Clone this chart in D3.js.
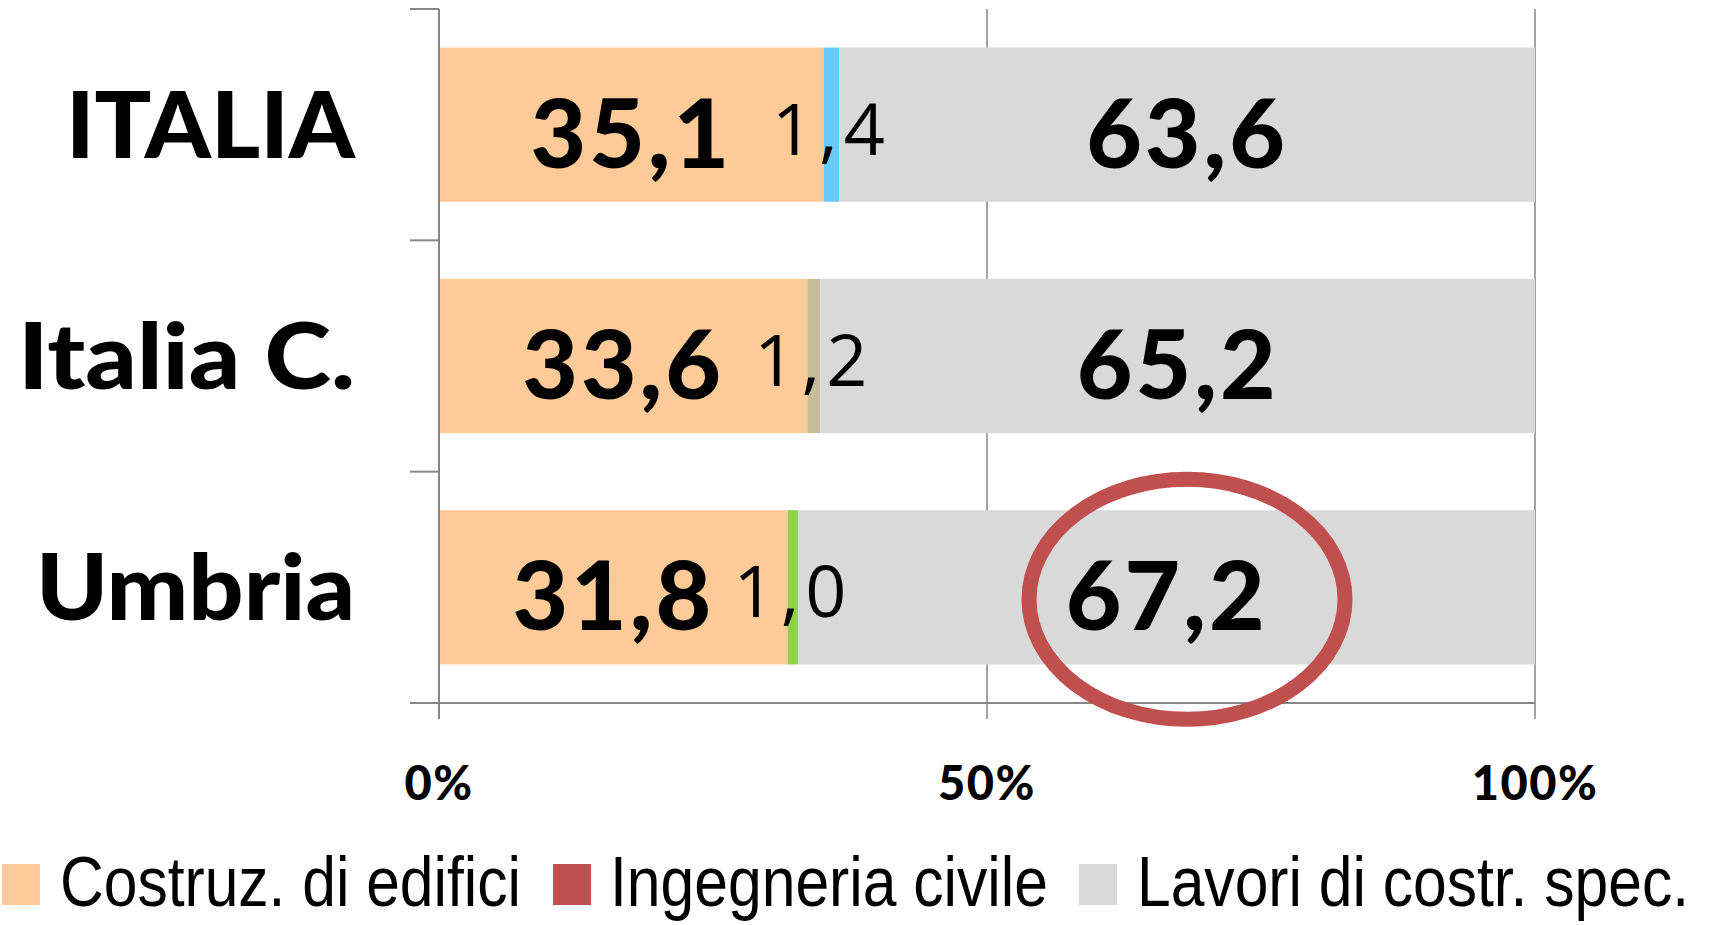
<!DOCTYPE html>
<html>
<head>
<meta charset="utf-8">
<script src="https://cdn.jsdelivr.net/npm/d3@7/dist/d3.min.js"></script>
<style>
  html, body { margin: 0; padding: 0; background: #ffffff; }
  svg { display: block; }
</style>
</head>
<body>
<svg id="chart" width="1709" height="925"></svg>
<script>
// ---- Data ----
const categories = ["ITALIA", "Italia C.", "Umbria"];
const edifici    = [35.1, 33.6, 31.8];
const ingegneria = [1.4, 1.2, 1.0];
const lavori     = [63.6, 65.2, 67.2];
const seriesNames = ["Costruz. di edifici", "Ingegneria civile", "Lavori di costr. spec."];
const xTicks = [0, 50, 100];
const xTickLabels = ["0%", "50%", "100%"];
const highlighted = "Umbria";

// ---- Styles ----
const seriesColors = ["#FECB98", "#C0504D", "#D9D9D9"];
const middleColors = ["#66CCFF", "#C4BD97", "#92D050"];
const axisColor = "#868686";
const heavyFont = "Lato, 'DejaVu Sans', sans-serif";
const lightFont = "'Open Sans', 'Noto Sans', sans-serif";
const narrowFont = "'Liberation Sans Narrow', 'Arial Narrow', 'Liberation Sans', sans-serif";
const catLabelWidths = { "ITALIA": 289, "Italia C.": 337, "Umbria": 319 };

const svg = d3.select("#chart");

const x = d3.scaleLinear().domain([0, 100]).range([439, 1535]);
const y = d3.scaleBand().domain(categories).range([9, 703])
  .paddingInner(0.333).paddingOuter(0.1665);

const fmt = v => d3.format(".1f")(v).replace(".", ",");

// gridlines
svg.append("g").selectAll("line").data(xTicks.filter(t => t > 0)).join("line")
  .attr("x1", d => x(d)).attr("x2", d => x(d))
  .attr("y1", 9).attr("y2", 719)
  .attr("stroke", axisColor).attr("stroke-width", 1.5);

// rows
const rows = categories.map((c, i) => ({
  cat: c, i,
  segs: [
    { s: 0, e: edifici[i], color: seriesColors[0], v: edifici[i], kind: "big" },
    { s: edifici[i], e: edifici[i] + ingegneria[i], color: middleColors[i], v: ingegneria[i], kind: "small" },
    { s: edifici[i] + ingegneria[i], e: Math.min(100, edifici[i] + ingegneria[i] + lavori[i]), color: seriesColors[2], v: lavori[i], kind: "big" }
  ]
}));

const g = svg.append("g");
rows.forEach(r => {
  const yc = y(r.cat) + y.bandwidth() / 2;
  g.selectAll(null).data(r.segs).join("rect")
    .attr("x", d => x(d.s))
    .attr("width", d => x(d.e) - x(d.s))
    .attr("y", y(r.cat))
    .attr("height", y.bandwidth())
    .attr("fill", d => d.color);
  g.selectAll(null).data(r.segs).join("text")
    .attr("x", d => x((d.s + d.e) / 2))
    .attr("y", d => d.kind === "big" ? yc + 43 : yc + 30)
    .attr("text-anchor", "middle")
    .attr("font-family", d => d.kind === "big" ? heavyFont : lightFont)
    .attr("font-weight", d => d.kind === "big" ? 900 : 400)
    .attr("font-size", d => d.kind === "big" ? 96 : 72)
    .attr("letter-spacing", d => d.kind === "big" ? 3 : 6)
    .attr("fill", "#000")
    .text(d => fmt(d.v));
});

// axes
svg.append("line").attr("x1", x(0)).attr("x2", x(0)).attr("y1", 9).attr("y2", 719)
  .attr("stroke", axisColor).attr("stroke-width", 2);
svg.append("line").attr("x1", 410).attr("x2", x(100)).attr("y1", 703).attr("y2", 703)
  .attr("stroke", axisColor).attr("stroke-width", 2);
// category ticks at band boundaries
const bounds = [9].concat(categories.map(c => y(c) + y.bandwidth() + y.step() * y.paddingInner() / 2));
bounds[bounds.length - 1] = 703;
svg.append("g").selectAll("line").data(bounds).join("line")
  .attr("x1", 410).attr("x2", x(0)).attr("y1", d => d).attr("y2", d => d)
  .attr("stroke", axisColor).attr("stroke-width", 2);

// category labels
svg.append("g").selectAll("text").data(categories).join("text")
  .attr("x", 355)
  .attr("y", d => y(d) + y.bandwidth() / 2 + 33)
  .attr("text-anchor", "end")
  .attr("font-family", heavyFont).attr("font-weight", 900)
  .attr("font-size", 92)
  .attr("textLength", d => catLabelWidths[d])
  .attr("lengthAdjust", "spacingAndGlyphs")
  .attr("fill", "#000")
  .text(d => d);

// x tick labels
svg.append("g").selectAll("text").data(xTicks).join("text")
  .attr("x", d => x(d)).attr("y", 800)
  .attr("text-anchor", "middle")
  .attr("font-family", heavyFont).attr("font-weight", 900)
  .attr("font-size", 47).attr("letter-spacing", 1.5)
  .attr("fill", "#000")
  .text((d, i) => xTickLabels[i]);

// highlight ellipse
const hi = rows.find(r => r.cat === highlighted);
const hseg = hi.segs[2];
svg.append("ellipse")
  .attr("cx", x((hseg.s + hseg.e) / 2 + 1.85))
  .attr("cy", y(highlighted) + y.bandwidth() / 2 + 12)
  .attr("rx", 158).attr("ry", 120)
  .attr("fill", "none").attr("stroke", "#C0504D").attr("stroke-width", 15);

// legend
const legendItems = [
  { sx: 2, tx: 60, tw: 461 },
  { sx: 553, tx: 610, tw: 438 },
  { sx: 1079, tx: 1137, tw: 552 }
];
const lg = svg.append("g");
lg.selectAll("rect").data(seriesNames).join("rect")
  .attr("x", (d, i) => legendItems[i].sx).attr("y", 864)
  .attr("width", 38).attr("height", 41)
  .attr("fill", (d, i) => seriesColors[i]);
lg.selectAll("text").data(seriesNames).join("text")
  .attr("x", (d, i) => legendItems[i].tx).attr("y", 906)
  .attr("font-family", narrowFont)
  .attr("font-size", 70)
  .attr("textLength", (d, i) => legendItems[i].tw)
  .attr("lengthAdjust", "spacingAndGlyphs")
  .attr("fill", "#000")
  .text(d => d);
</script>
</body>
</html>
